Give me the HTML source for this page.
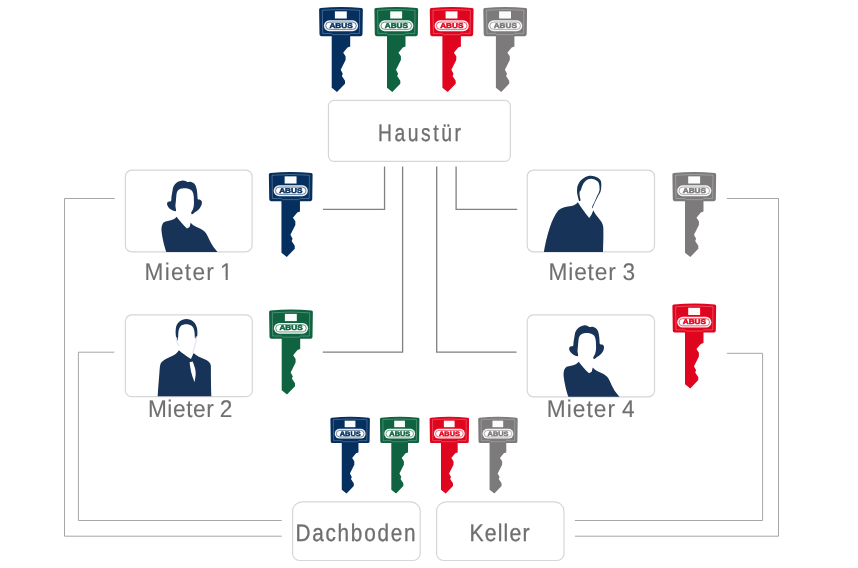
<!DOCTYPE html>
<html lang="de"><head><meta charset="utf-8"><title>Schließanlage</title>
<style>
html,body{margin:0;padding:0;background:#fff;}
body{width:858px;height:568px;overflow:hidden;}
svg{display:block;font-family:"Liberation Sans",sans-serif;text-rendering:geometricPrecision;}
</style></head><body>
<svg width="858" height="568" viewBox="0 0 858 568">
<defs><filter id="aa" filterUnits="userSpaceOnUse" x="0" y="0" width="858" height="568" color-interpolation-filters="sRGB"><feOffset dx="0" dy="0"/></filter></defs>
<rect width="858" height="568" fill="#fff"/>
<g filter="url(#aa)">
<g fill="none" stroke="#808080" stroke-width="1.3">
<path d="M384.55,166.4 V209.3 H323"/>
<path d="M402.6,166.4 V352.1 H322.8"/>
<path d="M436.7,166.4 V352.1 H516.6"/>
<path d="M456.1,166.4 V209.3 H517.2"/>
</g>
<g fill="none" stroke="#a6a6a6" stroke-width="1">
<path d="M114.7,198.5 H64.5 V536.2 H281.7"/>
<path d="M114.3,352.2 H78.4 V520.5 H281.7"/>
<path d="M726.9,198.5 H778.5 V536.2 H574.9"/>
<path d="M726.9,353.3 H762.6 V520.5 H574.9"/>
</g>
<rect x="328.45" y="100.45" width="181.9" height="61.0" rx="5.5" fill="#fff" stroke="#d6d6d6" stroke-width="1.2"/>
<rect x="125.4" y="170.2" width="126.7" height="81.6" rx="6.3" fill="#fff" stroke="#d6d6d6" stroke-width="1.2"/>
<rect x="125.4" y="314.9" width="126.9" height="81.8" rx="6.3" fill="#fff" stroke="#d6d6d6" stroke-width="1.2"/>
<rect x="527.2" y="170.2" width="127.3" height="81.6" rx="6.3" fill="#fff" stroke="#d6d6d6" stroke-width="1.2"/>
<rect x="527.2" y="314.9" width="127.3" height="81.9" rx="6.3" fill="#fff" stroke="#d6d6d6" stroke-width="1.2"/>
<path d="M302.1,501.9 H410.7 A9.5,9.5 0 0 1 420.2,511.4 V553.5 A7,7 0 0 1 413.2,560.5 H299.6 A7,7 0 0 1 292.6,553.5 V511.4 A9.5,9.5 0 0 1 302.1,501.9 Z" fill="#fff" stroke="#d6d6d6" stroke-width="1.2"/>
<path d="M446.1,501.9 H554.5 A9.5,9.5 0 0 1 564.0,511.4 V553.5 A7,7 0 0 1 557.0,560.5 H443.6 A7,7 0 0 1 436.6,553.5 V511.4 A9.5,9.5 0 0 1 446.1,501.9 Z" fill="#fff" stroke="#d6d6d6" stroke-width="1.2"/>
<g transform="translate(150,172) scale(0.14778)" fill="#173357"><path d="M174.9,264.5 C170.4,269.0 153.6,260.1 145.1,255.6 C136.7,251.1 129.2,244.2 124.3,237.7 C119.3,231.3 115.8,222.8 115.3,216.9 C114.8,210.9 116.8,205.5 121.3,202.0 C125.8,198.5 138.2,201.5 142.1,196.0 C146.1,190.6 143.6,179.6 145.1,169.2 C146.6,158.8 149.1,144.4 151.1,133.5 C153.1,122.6 154.0,112.1 157.0,103.7 C160.0,95.3 163.0,89.3 168.9,82.8 C174.9,76.4 184.3,69.2 192.8,65.0 C201.2,60.7 211.6,57.9 219.6,57.2 C227.5,56.5 235.0,59.0 240.4,60.8 C245.9,62.6 246.9,67.0 252.3,68.0 C257.8,68.9 265.2,64.8 273.2,66.8 C281.1,68.8 293.5,74.2 300.0,79.9 C306.4,85.5 308.9,92.8 311.9,100.7 C314.9,108.7 316.4,118.1 317.9,127.5 C319.4,137.0 319.8,147.9 320.8,157.3 C321.8,166.7 320.8,179.2 323.8,184.1 C326.8,189.1 334.2,184.6 338.7,187.1 C343.2,189.6 349.1,192.6 350.6,199.0 C352.1,205.5 350.6,217.4 347.6,225.8 C344.7,234.3 339.7,242.2 332.8,249.6 C325.8,257.1 313.9,264.5 305.9,270.5 C298.0,276.5 289.6,284.9 285.1,285.4 C280.6,285.9 278.2,279.4 279.1,273.5 C280.1,267.5 288.1,258.1 291.1,249.6 C294.0,241.2 296.0,233.3 297.0,222.8 C298.0,212.4 297.5,199.0 297.0,187.1 C296.5,175.2 296.5,161.8 294.0,151.4 C291.6,140.9 288.1,131.0 282.1,124.5 C276.2,118.1 267.2,115.1 258.3,112.6 C249.4,110.2 237.9,109.2 228.5,109.7 C219.1,110.2 209.1,111.6 201.7,115.6 C194.3,119.6 187.8,125.5 183.8,133.5 C179.9,141.4 179.4,152.3 177.9,163.3 C176.4,174.2 175.9,188.1 174.9,199.0 C173.9,209.9 171.9,217.9 171.9,228.8 C171.9,239.7 179.4,260.1 174.9,264.5 Z"/><path d="M180,303 C170,318 150,328 105,335 C85,340 76,365 78,400 C82,440 95,500 110,541 L457,541 C440,520 420,500 400,455 C388,425 375,400 345,385 C320,375 295,365 275,343 L268,372 L250,382 C225,360 200,330 180,303 Z"/></g>
<g transform="translate(150,314) scale(0.14778)" fill="#173357"><path d="M185,182 C176,160 170,130 175,95 C182,58 210,35 246,34 C284,35 312,60 319,100 C323,130 321,150 315,168 L303,160 C304,125 300,98 284,82 C264,66 228,66 210,80 C194,95 190,125 191,150 Z"/><path d="M195,245 C185,262 175,272 150,285 C120,298 90,310 75,330 C65,345 66,380 62,420 C58,470 54,520 52,556 L415,556 C413,500 412,420 412,350 C410,330 395,318 370,306 C345,296 315,285 295,264 L284,290 L277,304 C250,288 220,265 195,245 Z"/><path d="M268,326 L288,322 C298,345 312,378 309,412 L302,460 C290,430 276,400 268,326 Z" fill="#fff"/><path d="M177,160 C177,182 185,200 195,214 M313,155 C317,175 312,196 303,216 C297,236 292,250 290,262" fill="none" stroke="#e4e8ed" stroke-width="9" stroke-linecap="round"/></g>
<g transform="translate(535,172) scale(0.14778)" fill="#173357"><path d="M284.4,128.7 C284.7,121.5 284.8,108.8 286.8,100.1 C288.8,91.3 292.0,83.8 296.4,76.2 C300.7,68.7 305.5,61.8 313.0,54.8 C320.6,47.8 330.5,39.1 341.6,34.3 C352.7,29.5 367.0,26.0 379.8,26.2 C392.5,26.4 407.5,31.0 417.9,35.7 C428.2,40.5 436.5,47.3 441.7,54.8 C446.9,62.3 448.0,70.3 448.8,81.0 C449.6,91.7 448.0,108.8 446.5,119.1 C444.9,129.4 442.9,135.0 439.3,142.9 C435.7,150.9 431.0,155.7 425.0,166.8 C419.1,177.9 409.5,197.0 403.6,209.7 C397.6,222.4 392.3,238.2 389.3,243.0 C386.3,247.8 383.9,243.8 385.5,238.2 C387.1,232.7 393.0,222.4 398.8,209.7 C404.6,197.0 414.7,173.9 420.3,162.0 C425.8,150.1 429.4,145.3 432.2,138.2 C434.9,131.0 436.5,127.9 436.9,119.1 C437.3,110.4 436.5,94.9 434.5,85.8 C432.6,76.6 430.2,70.3 425.0,64.3 C419.9,58.4 411.1,53.2 403.6,50.0 C396.0,46.9 387.7,45.3 379.8,45.3 C371.8,45.3 363.1,46.5 355.9,50.0 C348.8,53.6 342.4,60.4 336.9,66.7 C331.3,73.1 326.1,81.4 322.6,88.2 C319.0,94.9 317.6,101.1 315.4,107.2 C313.2,113.3 311.2,120.9 309.2,124.8 C307.2,128.8 304.9,128.0 303.5,131.0 C302.2,134.1 301.1,137.0 301.1,142.9 C301.1,148.9 302.3,158.8 303.5,166.8 C304.7,174.7 309.1,185.8 308.3,190.6 C307.5,195.4 301.8,199.3 298.7,195.4 C295.7,191.4 292.4,175.5 290.2,166.8 C287.9,158.0 286.4,149.3 285.4,142.9 C284.5,136.6 284.2,135.8 284.4,128.7 Z"/><path d="M290,205 C280,218 268,226 245,230 C215,233 180,240 158,258 C135,285 115,330 100,375 C82,430 68,490 60,541 L460,541 C462,480 464,420 462,375 C460,345 440,325 420,300 C410,285 400,270 395,258 L382,290 L367,312 C340,280 312,240 290,205 Z"/></g>
<g transform="translate(552.1,316.9) scale(0.14778)" fill="#173357"><path d="M174.9,264.5 C170.4,269.0 153.6,260.1 145.1,255.6 C136.7,251.1 129.2,244.2 124.3,237.7 C119.3,231.3 115.8,222.8 115.3,216.9 C114.8,210.9 116.8,205.5 121.3,202.0 C125.8,198.5 138.2,201.5 142.1,196.0 C146.1,190.6 143.6,179.6 145.1,169.2 C146.6,158.8 149.1,144.4 151.1,133.5 C153.1,122.6 154.0,112.1 157.0,103.7 C160.0,95.3 163.0,89.3 168.9,82.8 C174.9,76.4 184.3,69.2 192.8,65.0 C201.2,60.7 211.6,57.9 219.6,57.2 C227.5,56.5 235.0,59.0 240.4,60.8 C245.9,62.6 246.9,67.0 252.3,68.0 C257.8,68.9 265.2,64.8 273.2,66.8 C281.1,68.8 293.5,74.2 300.0,79.9 C306.4,85.5 308.9,92.8 311.9,100.7 C314.9,108.7 316.4,118.1 317.9,127.5 C319.4,137.0 319.8,147.9 320.8,157.3 C321.8,166.7 320.8,179.2 323.8,184.1 C326.8,189.1 334.2,184.6 338.7,187.1 C343.2,189.6 349.1,192.6 350.6,199.0 C352.1,205.5 350.6,217.4 347.6,225.8 C344.7,234.3 339.7,242.2 332.8,249.6 C325.8,257.1 313.9,264.5 305.9,270.5 C298.0,276.5 289.6,284.9 285.1,285.4 C280.6,285.9 278.2,279.4 279.1,273.5 C280.1,267.5 288.1,258.1 291.1,249.6 C294.0,241.2 296.0,233.3 297.0,222.8 C298.0,212.4 297.5,199.0 297.0,187.1 C296.5,175.2 296.5,161.8 294.0,151.4 C291.6,140.9 288.1,131.0 282.1,124.5 C276.2,118.1 267.2,115.1 258.3,112.6 C249.4,110.2 237.9,109.2 228.5,109.7 C219.1,110.2 209.1,111.6 201.7,115.6 C194.3,119.6 187.8,125.5 183.8,133.5 C179.9,141.4 179.4,152.3 177.9,163.3 C176.4,174.2 175.9,188.1 174.9,199.0 C173.9,209.9 171.9,217.9 171.9,228.8 C171.9,239.7 179.4,260.1 174.9,264.5 Z"/><path d="M180,303 C170,318 150,328 105,335 C85,340 76,365 78,400 C82,440 95,500 110,541 L457,541 C440,520 420,500 400,455 C388,425 375,400 345,385 C320,375 295,365 275,343 L268,372 L250,382 C225,360 200,330 180,303 Z"/></g>
<g transform="translate(319.0,7.04) scale(1.0)"><path fill="#052f5f" d="M1.5,0.95 Q22,-0.95 42.5,0.95 Q43.9,1.1 43.85,2.5 L43.5,27.3 Q43.5,29.1 41.7,29.1 L31.2,29.1 L31.2,39.4 L28.5,40.4 L24.2,45.6 L26.6,49.3 L26.6,53 L21.7,62.8 L23.8,66.8 L22.9,69 L26,73.7 L26,76.6 L18,84.9 L12.7,80.7 L12.7,29.1 L2.3,29.1 Q0.5,29.1 0.5,27.3 L0.1,2.5 Q0.05,1.1 1.5,0.95 Z"/><path fill="none" stroke="#ffffff" stroke-opacity="0.3" stroke-width="0.85" d="M3.3,3.2 Q22,1.6 40.7,3.2 L40.4,26.4 L31.5,26.4 L30,27.6 L13.8,27.6 L12.3,26.4 L3.7,26.4 Z"/><rect x="15.9" y="4.3" width="11.9" height="7.2" fill="#fff" fill-opacity="0.98"/><rect x="4.9" y="13.3" width="34.2" height="10.8" rx="5.4" fill="#fff" fill-opacity="0.93"/><rect x="6.75" y="15.1" width="30.5" height="7.2" rx="3.6" fill="#fff" stroke="#052f5f" stroke-width="0.6"/><text x="22.1" y="20.8" font-family="Liberation Sans, sans-serif" font-weight="bold" font-size="7.1" text-anchor="middle" textLength="23.3" lengthAdjust="spacingAndGlyphs" fill="#052f5f" stroke="#052f5f" stroke-width="0.5">ABUS</text></g>
<g transform="translate(374.3,7.04) scale(1.0)"><path fill="#0f6340" d="M1.5,0.95 Q22,-0.95 42.5,0.95 Q43.9,1.1 43.85,2.5 L43.5,27.3 Q43.5,29.1 41.7,29.1 L31.2,29.1 L31.2,39.4 L28.5,40.4 L24.2,45.6 L26.6,49.3 L26.6,53 L21.7,62.8 L23.8,66.8 L22.9,69 L26,73.7 L26,76.6 L18,84.9 L12.7,80.7 L12.7,29.1 L2.3,29.1 Q0.5,29.1 0.5,27.3 L0.1,2.5 Q0.05,1.1 1.5,0.95 Z"/><path fill="none" stroke="#ffffff" stroke-opacity="0.3" stroke-width="0.85" d="M3.3,3.2 Q22,1.6 40.7,3.2 L40.4,26.4 L31.5,26.4 L30,27.6 L13.8,27.6 L12.3,26.4 L3.7,26.4 Z"/><rect x="15.9" y="4.3" width="11.9" height="7.2" fill="#fff" fill-opacity="0.98"/><rect x="4.9" y="13.3" width="34.2" height="10.8" rx="5.4" fill="#fff" fill-opacity="0.93"/><rect x="6.75" y="15.1" width="30.5" height="7.2" rx="3.6" fill="#fff" stroke="#0f6340" stroke-width="0.6"/><text x="22.1" y="20.8" font-family="Liberation Sans, sans-serif" font-weight="bold" font-size="7.1" text-anchor="middle" textLength="23.3" lengthAdjust="spacingAndGlyphs" fill="#0f6340" stroke="#0f6340" stroke-width="0.5">ABUS</text></g>
<g transform="translate(429.7,7.04) scale(1.0)"><path fill="#e0051f" d="M1.5,0.95 Q22,-0.95 42.5,0.95 Q43.9,1.1 43.85,2.5 L43.5,27.3 Q43.5,29.1 41.7,29.1 L31.2,29.1 L31.2,39.4 L28.5,40.4 L24.2,45.6 L26.6,49.3 L26.6,53 L21.7,62.8 L23.8,66.8 L22.9,69 L26,73.7 L26,76.6 L18,84.9 L12.7,80.7 L12.7,29.1 L2.3,29.1 Q0.5,29.1 0.5,27.3 L0.1,2.5 Q0.05,1.1 1.5,0.95 Z"/><path fill="none" stroke="#ffffff" stroke-opacity="0.3" stroke-width="0.85" d="M3.3,3.2 Q22,1.6 40.7,3.2 L40.4,26.4 L31.5,26.4 L30,27.6 L13.8,27.6 L12.3,26.4 L3.7,26.4 Z"/><rect x="15.9" y="4.3" width="11.9" height="7.2" fill="#fff" fill-opacity="0.98"/><rect x="4.9" y="13.3" width="34.2" height="10.8" rx="5.4" fill="#fff" fill-opacity="0.93"/><rect x="6.75" y="15.1" width="30.5" height="7.2" rx="3.6" fill="#fff" stroke="#e0051f" stroke-width="0.6"/><text x="22.1" y="20.8" font-family="Liberation Sans, sans-serif" font-weight="bold" font-size="7.1" text-anchor="middle" textLength="23.3" lengthAdjust="spacingAndGlyphs" fill="#e0051f" stroke="#e0051f" stroke-width="0.5">ABUS</text></g>
<g transform="translate(483.2,7.04) scale(1.0)"><path fill="#7c7a7b" d="M1.5,0.95 Q22,-0.95 42.5,0.95 Q43.9,1.1 43.85,2.5 L43.5,27.3 Q43.5,29.1 41.7,29.1 L31.2,29.1 L31.2,39.4 L28.5,40.4 L24.2,45.6 L26.6,49.3 L26.6,53 L21.7,62.8 L23.8,66.8 L22.9,69 L26,73.7 L26,76.6 L18,84.9 L12.7,80.7 L12.7,29.1 L2.3,29.1 Q0.5,29.1 0.5,27.3 L0.1,2.5 Q0.05,1.1 1.5,0.95 Z"/><path fill="none" stroke="#ffffff" stroke-opacity="0.3" stroke-width="0.85" d="M3.3,3.2 Q22,1.6 40.7,3.2 L40.4,26.4 L31.5,26.4 L30,27.6 L13.8,27.6 L12.3,26.4 L3.7,26.4 Z"/><rect x="15.9" y="4.3" width="11.9" height="7.2" fill="#fff" fill-opacity="0.98"/><rect x="4.9" y="13.3" width="34.2" height="10.8" rx="5.4" fill="#fff" fill-opacity="0.93"/><rect x="6.75" y="15.1" width="30.5" height="7.2" rx="3.6" fill="#fff" stroke="#7c7a7b" stroke-width="0.6"/><text x="22.1" y="20.8" font-family="Liberation Sans, sans-serif" font-weight="bold" font-size="7.1" text-anchor="middle" textLength="23.3" lengthAdjust="spacingAndGlyphs" fill="#7c7a7b" stroke="#7c7a7b" stroke-width="0.5">ABUS</text></g>
<g transform="translate(268.75,172.04) scale(1.0)"><path fill="#052f5f" d="M1.5,0.95 Q22,-0.95 42.5,0.95 Q43.9,1.1 43.85,2.5 L43.5,27.3 Q43.5,29.1 41.7,29.1 L31.2,29.1 L31.2,39.4 L28.5,40.4 L24.2,45.6 L26.6,49.3 L26.6,53 L21.7,62.8 L23.8,66.8 L22.9,69 L26,73.7 L26,76.6 L18,84.9 L12.7,80.7 L12.7,29.1 L2.3,29.1 Q0.5,29.1 0.5,27.3 L0.1,2.5 Q0.05,1.1 1.5,0.95 Z"/><path fill="none" stroke="#ffffff" stroke-opacity="0.3" stroke-width="0.85" d="M3.3,3.2 Q22,1.6 40.7,3.2 L40.4,26.4 L31.5,26.4 L30,27.6 L13.8,27.6 L12.3,26.4 L3.7,26.4 Z"/><rect x="15.9" y="4.3" width="11.9" height="7.2" fill="#fff" fill-opacity="0.98"/><rect x="4.9" y="13.3" width="34.2" height="10.8" rx="5.4" fill="#fff" fill-opacity="0.93"/><rect x="6.75" y="15.1" width="30.5" height="7.2" rx="3.6" fill="#fff" stroke="#052f5f" stroke-width="0.6"/><text x="22.1" y="20.8" font-family="Liberation Sans, sans-serif" font-weight="bold" font-size="7.1" text-anchor="middle" textLength="23.3" lengthAdjust="spacingAndGlyphs" fill="#052f5f" stroke="#052f5f" stroke-width="0.5">ABUS</text></g>
<g transform="translate(269.0,309.6) scale(1.0)"><path fill="#0f6340" d="M1.5,0.95 Q22,-0.95 42.5,0.95 Q43.9,1.1 43.85,2.5 L43.5,27.3 Q43.5,29.1 41.7,29.1 L31.2,29.1 L31.2,39.4 L28.5,40.4 L24.2,45.6 L26.6,49.3 L26.6,53 L21.7,62.8 L23.8,66.8 L22.9,69 L26,73.7 L26,76.6 L18,84.9 L12.7,80.7 L12.7,29.1 L2.3,29.1 Q0.5,29.1 0.5,27.3 L0.1,2.5 Q0.05,1.1 1.5,0.95 Z"/><path fill="none" stroke="#ffffff" stroke-opacity="0.3" stroke-width="0.85" d="M3.3,3.2 Q22,1.6 40.7,3.2 L40.4,26.4 L31.5,26.4 L30,27.6 L13.8,27.6 L12.3,26.4 L3.7,26.4 Z"/><rect x="15.9" y="4.3" width="11.9" height="7.2" fill="#fff" fill-opacity="0.98"/><rect x="4.9" y="13.3" width="34.2" height="10.8" rx="5.4" fill="#fff" fill-opacity="0.93"/><rect x="6.75" y="15.1" width="30.5" height="7.2" rx="3.6" fill="#fff" stroke="#0f6340" stroke-width="0.6"/><text x="22.1" y="20.8" font-family="Liberation Sans, sans-serif" font-weight="bold" font-size="7.1" text-anchor="middle" textLength="23.3" lengthAdjust="spacingAndGlyphs" fill="#0f6340" stroke="#0f6340" stroke-width="0.5">ABUS</text></g>
<g transform="translate(672.3,172.04) scale(1.0)"><path fill="#7c7a7b" d="M1.5,0.95 Q22,-0.95 42.5,0.95 Q43.9,1.1 43.85,2.5 L43.5,27.3 Q43.5,29.1 41.7,29.1 L31.2,29.1 L31.2,39.4 L28.5,40.4 L24.2,45.6 L26.6,49.3 L26.6,53 L21.7,62.8 L23.8,66.8 L22.9,69 L26,73.7 L26,76.6 L18,84.9 L12.7,80.7 L12.7,29.1 L2.3,29.1 Q0.5,29.1 0.5,27.3 L0.1,2.5 Q0.05,1.1 1.5,0.95 Z"/><path fill="none" stroke="#ffffff" stroke-opacity="0.3" stroke-width="0.85" d="M3.3,3.2 Q22,1.6 40.7,3.2 L40.4,26.4 L31.5,26.4 L30,27.6 L13.8,27.6 L12.3,26.4 L3.7,26.4 Z"/><rect x="15.9" y="4.3" width="11.9" height="7.2" fill="#fff" fill-opacity="0.98"/><rect x="4.9" y="13.3" width="34.2" height="10.8" rx="5.4" fill="#fff" fill-opacity="0.93"/><rect x="6.75" y="15.1" width="30.5" height="7.2" rx="3.6" fill="#fff" stroke="#7c7a7b" stroke-width="0.6"/><text x="22.1" y="20.8" font-family="Liberation Sans, sans-serif" font-weight="bold" font-size="7.1" text-anchor="middle" textLength="23.3" lengthAdjust="spacingAndGlyphs" fill="#7c7a7b" stroke="#7c7a7b" stroke-width="0.5">ABUS</text></g>
<g transform="translate(672.3,303.5) scale(1.0)"><path fill="#e0051f" d="M1.5,0.95 Q22,-0.95 42.5,0.95 Q43.9,1.1 43.85,2.5 L43.5,27.3 Q43.5,29.1 41.7,29.1 L31.2,29.1 L31.2,39.4 L28.5,40.4 L24.2,45.6 L26.6,49.3 L26.6,53 L21.7,62.8 L23.8,66.8 L22.9,69 L26,73.7 L26,76.6 L18,84.9 L12.7,80.7 L12.7,29.1 L2.3,29.1 Q0.5,29.1 0.5,27.3 L0.1,2.5 Q0.05,1.1 1.5,0.95 Z"/><path fill="none" stroke="#ffffff" stroke-opacity="0.3" stroke-width="0.85" d="M3.3,3.2 Q22,1.6 40.7,3.2 L40.4,26.4 L31.5,26.4 L30,27.6 L13.8,27.6 L12.3,26.4 L3.7,26.4 Z"/><rect x="15.9" y="4.3" width="11.9" height="7.2" fill="#fff" fill-opacity="0.98"/><rect x="4.9" y="13.3" width="34.2" height="10.8" rx="5.4" fill="#fff" fill-opacity="0.93"/><rect x="6.75" y="15.1" width="30.5" height="7.2" rx="3.6" fill="#fff" stroke="#e0051f" stroke-width="0.6"/><text x="22.1" y="20.8" font-family="Liberation Sans, sans-serif" font-weight="bold" font-size="7.1" text-anchor="middle" textLength="23.3" lengthAdjust="spacingAndGlyphs" fill="#e0051f" stroke="#e0051f" stroke-width="0.5">ABUS</text></g>
<g transform="translate(330.3,416.8) scale(0.903)"><path fill="#052f5f" d="M1.5,0.95 Q22,-0.95 42.5,0.95 Q43.9,1.1 43.85,2.5 L43.5,27.3 Q43.5,29.1 41.7,29.1 L31.2,29.1 L31.2,39.4 L28.5,40.4 L24.2,45.6 L26.6,49.3 L26.6,53 L21.7,62.8 L23.8,66.8 L22.9,69 L26,73.7 L26,76.6 L18,84.9 L12.7,80.7 L12.7,29.1 L2.3,29.1 Q0.5,29.1 0.5,27.3 L0.1,2.5 Q0.05,1.1 1.5,0.95 Z"/><path fill="none" stroke="#ffffff" stroke-opacity="0.3" stroke-width="0.85" d="M3.3,3.2 Q22,1.6 40.7,3.2 L40.4,26.4 L31.5,26.4 L30,27.6 L13.8,27.6 L12.3,26.4 L3.7,26.4 Z"/><rect x="15.9" y="4.3" width="11.9" height="7.2" fill="#fff" fill-opacity="0.98"/><rect x="4.9" y="13.3" width="34.2" height="10.8" rx="5.4" fill="#fff" fill-opacity="0.93"/><rect x="6.75" y="15.1" width="30.5" height="7.2" rx="3.6" fill="#fff" stroke="#052f5f" stroke-width="0.6"/><text x="22.1" y="20.8" font-family="Liberation Sans, sans-serif" font-weight="bold" font-size="7.1" text-anchor="middle" textLength="23.3" lengthAdjust="spacingAndGlyphs" fill="#052f5f" stroke="#052f5f" stroke-width="0.5">ABUS</text></g>
<g transform="translate(379.85,416.8) scale(0.903)"><path fill="#0f6340" d="M1.5,0.95 Q22,-0.95 42.5,0.95 Q43.9,1.1 43.85,2.5 L43.5,27.3 Q43.5,29.1 41.7,29.1 L31.2,29.1 L31.2,39.4 L28.5,40.4 L24.2,45.6 L26.6,49.3 L26.6,53 L21.7,62.8 L23.8,66.8 L22.9,69 L26,73.7 L26,76.6 L18,84.9 L12.7,80.7 L12.7,29.1 L2.3,29.1 Q0.5,29.1 0.5,27.3 L0.1,2.5 Q0.05,1.1 1.5,0.95 Z"/><path fill="none" stroke="#ffffff" stroke-opacity="0.3" stroke-width="0.85" d="M3.3,3.2 Q22,1.6 40.7,3.2 L40.4,26.4 L31.5,26.4 L30,27.6 L13.8,27.6 L12.3,26.4 L3.7,26.4 Z"/><rect x="15.9" y="4.3" width="11.9" height="7.2" fill="#fff" fill-opacity="0.98"/><rect x="4.9" y="13.3" width="34.2" height="10.8" rx="5.4" fill="#fff" fill-opacity="0.93"/><rect x="6.75" y="15.1" width="30.5" height="7.2" rx="3.6" fill="#fff" stroke="#0f6340" stroke-width="0.6"/><text x="22.1" y="20.8" font-family="Liberation Sans, sans-serif" font-weight="bold" font-size="7.1" text-anchor="middle" textLength="23.3" lengthAdjust="spacingAndGlyphs" fill="#0f6340" stroke="#0f6340" stroke-width="0.5">ABUS</text></g>
<g transform="translate(429.5,416.8) scale(0.903)"><path fill="#e0051f" d="M1.5,0.95 Q22,-0.95 42.5,0.95 Q43.9,1.1 43.85,2.5 L43.5,27.3 Q43.5,29.1 41.7,29.1 L31.2,29.1 L31.2,39.4 L28.5,40.4 L24.2,45.6 L26.6,49.3 L26.6,53 L21.7,62.8 L23.8,66.8 L22.9,69 L26,73.7 L26,76.6 L18,84.9 L12.7,80.7 L12.7,29.1 L2.3,29.1 Q0.5,29.1 0.5,27.3 L0.1,2.5 Q0.05,1.1 1.5,0.95 Z"/><path fill="none" stroke="#ffffff" stroke-opacity="0.3" stroke-width="0.85" d="M3.3,3.2 Q22,1.6 40.7,3.2 L40.4,26.4 L31.5,26.4 L30,27.6 L13.8,27.6 L12.3,26.4 L3.7,26.4 Z"/><rect x="15.9" y="4.3" width="11.9" height="7.2" fill="#fff" fill-opacity="0.98"/><rect x="4.9" y="13.3" width="34.2" height="10.8" rx="5.4" fill="#fff" fill-opacity="0.93"/><rect x="6.75" y="15.1" width="30.5" height="7.2" rx="3.6" fill="#fff" stroke="#e0051f" stroke-width="0.6"/><text x="22.1" y="20.8" font-family="Liberation Sans, sans-serif" font-weight="bold" font-size="7.1" text-anchor="middle" textLength="23.3" lengthAdjust="spacingAndGlyphs" fill="#e0051f" stroke="#e0051f" stroke-width="0.5">ABUS</text></g>
<g transform="translate(478.1,416.8) scale(0.903)"><path fill="#7c7a7b" d="M1.5,0.95 Q22,-0.95 42.5,0.95 Q43.9,1.1 43.85,2.5 L43.5,27.3 Q43.5,29.1 41.7,29.1 L31.2,29.1 L31.2,39.4 L28.5,40.4 L24.2,45.6 L26.6,49.3 L26.6,53 L21.7,62.8 L23.8,66.8 L22.9,69 L26,73.7 L26,76.6 L18,84.9 L12.7,80.7 L12.7,29.1 L2.3,29.1 Q0.5,29.1 0.5,27.3 L0.1,2.5 Q0.05,1.1 1.5,0.95 Z"/><path fill="none" stroke="#ffffff" stroke-opacity="0.3" stroke-width="0.85" d="M3.3,3.2 Q22,1.6 40.7,3.2 L40.4,26.4 L31.5,26.4 L30,27.6 L13.8,27.6 L12.3,26.4 L3.7,26.4 Z"/><rect x="15.9" y="4.3" width="11.9" height="7.2" fill="#fff" fill-opacity="0.98"/><rect x="4.9" y="13.3" width="34.2" height="10.8" rx="5.4" fill="#fff" fill-opacity="0.93"/><rect x="6.75" y="15.1" width="30.5" height="7.2" rx="3.6" fill="#fff" stroke="#7c7a7b" stroke-width="0.6"/><text x="22.1" y="20.8" font-family="Liberation Sans, sans-serif" font-weight="bold" font-size="7.1" text-anchor="middle" textLength="23.3" lengthAdjust="spacingAndGlyphs" fill="#7c7a7b" stroke="#7c7a7b" stroke-width="0.5">ABUS</text></g>
<text transform="translate(378.00,140.8) scale(0.8,1)" font-size="24.1" word-spacing="0" textLength="103.75" lengthAdjust="spacing" fill="#6f6f6f" stroke="#6f6f6f" stroke-width="0.32">Haustür</text>
<text transform="translate(144.50,280) scale(0.94,1)" font-size="24.1" word-spacing="-3" textLength="93.62" lengthAdjust="spacing" fill="#6f6f6f" stroke="#6f6f6f" stroke-width="0.12">Mieter 1</text>
<text transform="translate(147.90,417.0) scale(0.94,1)" font-size="24.1" word-spacing="-1.5" textLength="89.89" lengthAdjust="spacing" fill="#6f6f6f" stroke="#6f6f6f" stroke-width="0.12">Mieter 2</text>
<text transform="translate(548.50,280) scale(0.94,1)" font-size="24.1" word-spacing="-1.5" textLength="92.02" lengthAdjust="spacing" fill="#6f6f6f" stroke="#6f6f6f" stroke-width="0.12">Mieter 3</text>
<text transform="translate(546.70,417.3) scale(0.94,1)" font-size="24.1" word-spacing="-1.5" textLength="93.62" lengthAdjust="spacing" fill="#6f6f6f" stroke="#6f6f6f" stroke-width="0.12">Mieter 4</text>
<text transform="translate(295.50,540.7) scale(0.86,1)" font-size="24.1" word-spacing="0" textLength="139.53" lengthAdjust="spacing" fill="#6f6f6f" stroke="#6f6f6f" stroke-width="0.32">Dachboden</text>
<text transform="translate(469.50,540.7) scale(0.88,1)" font-size="24.1" word-spacing="0" textLength="68.18" lengthAdjust="spacing" fill="#6f6f6f" stroke="#6f6f6f" stroke-width="0.32">Keller</text>
<rect x="218.5" y="277.4" width="7.15" height="3.3" fill="#fff"/><rect x="227.75" y="277.4" width="5.8" height="3.3" fill="#fff"/>
</g></svg></body></html>
